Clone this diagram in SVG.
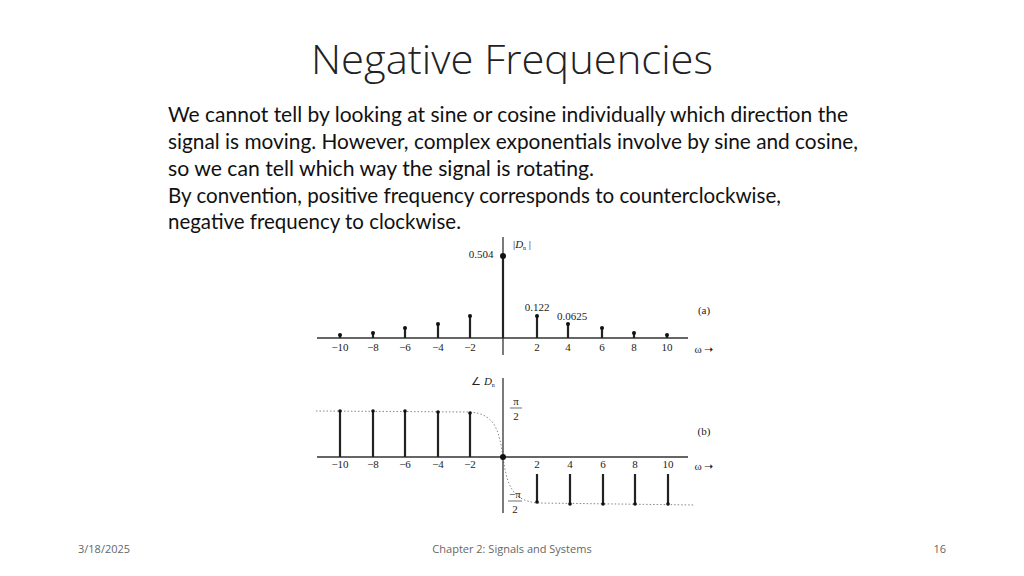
<svg xmlns="http://www.w3.org/2000/svg" width="1024" height="576" viewBox="0 0 1024 576">
<style>
.t{font-family:"Open Sans","Liberation Sans",sans-serif;fill:#222}
.body{font-family:Lato,"Liberation Sans",sans-serif;font-size:20.5px;fill:#111}
.lab{font-family:"Liberation Serif",serif;font-size:11px;fill:#222;text-anchor:middle}
.ax{stroke:#333;stroke-width:1.3;fill:none}
.st{stroke:#222;stroke-width:2.2}
.dot{fill:#111}
.dash{stroke:#888;stroke-width:1;stroke-dasharray:1.5 2;fill:none}
.ft{font-family:"Open Sans","Liberation Sans",sans-serif;font-size:11px;fill:#666}
</style>
<rect width="1024" height="576" fill="#fff"/>
<text class="t" x="512" y="74" font-size="40" font-weight="300" text-anchor="middle" textLength="402" lengthAdjust="spacingAndGlyphs">Negative Frequencies</text>
<g id="body">
<text class="body" x="168" y="122" textLength="680" lengthAdjust="spacingAndGlyphs">We cannot tell by looking at sine or cosine individually which direction the</text>
<text class="body" x="168" y="149" textLength="690" lengthAdjust="spacingAndGlyphs">signal is moving.  However, complex exponentials involve by sine and cosine,</text>
<text class="body" x="168" y="176" textLength="426" lengthAdjust="spacingAndGlyphs">so we can tell which way the signal is rotating.</text>
<text class="body" x="168" y="203" textLength="613" lengthAdjust="spacingAndGlyphs">By convention, positive frequency corresponds to counterclockwise,</text>
<text class="body" x="168" y="229" textLength="293" lengthAdjust="spacingAndGlyphs">negative frequency to clockwise.</text>
</g>
<g id="plotA">
<line class="ax" x1="317" y1="338" x2="688" y2="338"/>
<line class="ax" x1="503" y1="237" x2="503" y2="355"/>
<g class="st">
<line x1="503" y1="338" x2="503" y2="256"/>
<line x1="470" y1="338" x2="470" y2="316"/><line x1="537" y1="338" x2="537" y2="316"/>
<line x1="438" y1="338" x2="438" y2="324"/><line x1="568" y1="338" x2="568" y2="324"/>
<line x1="405" y1="338" x2="405" y2="328"/><line x1="602" y1="338" x2="602" y2="328"/>
<line x1="373" y1="338" x2="373" y2="333"/><line x1="634" y1="338" x2="634" y2="333"/>
<line x1="340" y1="338" x2="340" y2="335"/><line x1="667" y1="338" x2="667" y2="335"/>
</g>
<circle class="dot" cx="503" cy="256" r="3"/>
<circle class="dot" cx="470" cy="316" r="2"/><circle class="dot" cx="537" cy="316" r="2"/>
<circle class="dot" cx="438" cy="324" r="2"/><circle class="dot" cx="568" cy="324" r="2"/>
<circle class="dot" cx="405" cy="328" r="2"/><circle class="dot" cx="602" cy="328" r="2"/>
<circle class="dot" cx="373" cy="333" r="2"/><circle class="dot" cx="634" cy="333" r="2"/>
<circle class="dot" cx="340" cy="335" r="2"/><circle class="dot" cx="667" cy="335" r="2"/>
<text class="lab" x="340" y="351">−10</text><text class="lab" x="373" y="351">−8</text><text class="lab" x="405" y="351">−6</text><text class="lab" x="438" y="351">−4</text><text class="lab" x="470" y="351">−2</text>
<text class="lab" x="537" y="351">2</text><text class="lab" x="568" y="351">4</text><text class="lab" x="602" y="351">6</text><text class="lab" x="634" y="351">8</text><text class="lab" x="667" y="351">10</text>
<text class="lab" x="481" y="258">0.504</text>
<text class="lab" x="522" y="248">|<tspan font-style="italic">D</tspan><tspan font-size="6" dy="2">n</tspan><tspan dy="-2"> |</tspan></text>
<text class="lab" x="537" y="311">0.122</text>
<text class="lab" x="572" y="320">0.0625</text>
<text class="lab" x="704" y="314">(a)</text>
<text class="lab" x="704" y="353">ω ➝</text>
</g>
<g id="plotB">
<path class="dash" d="M316 411 L470 412 C495 414 499 430 503 457 C507 484 511 500 537 503 L695 505"/>
<line class="ax" x1="317" y1="457" x2="688" y2="457"/>
<line class="ax" x1="503" y1="378" x2="503" y2="513"/>
<g class="st">
<line x1="340" y1="457" x2="340" y2="411"/><line x1="373" y1="457" x2="373" y2="411"/><line x1="405" y1="457" x2="405" y2="411"/><line x1="438" y1="457" x2="438" y2="412"/><line x1="470" y1="457" x2="470" y2="413"/>
<line x1="537" y1="474" x2="537" y2="502"/><line x1="570" y1="474" x2="570" y2="504"/><line x1="603" y1="474" x2="603" y2="504"/><line x1="635" y1="474" x2="635" y2="504"/><line x1="668" y1="474" x2="668" y2="504"/>
</g>
<circle class="dot" cx="340" cy="411" r="1.8"/><circle class="dot" cx="373" cy="411" r="1.8"/><circle class="dot" cx="405" cy="411" r="1.8"/><circle class="dot" cx="438" cy="412" r="1.8"/><circle class="dot" cx="470" cy="413" r="1.8"/>
<circle class="dot" cx="537" cy="502" r="1.8"/><circle class="dot" cx="570" cy="504" r="1.8"/><circle class="dot" cx="603" cy="504" r="1.8"/><circle class="dot" cx="635" cy="504" r="1.8"/><circle class="dot" cx="668" cy="504" r="1.8"/>
<circle class="dot" cx="503" cy="457" r="3"/>
<text class="lab" x="340" y="468">−10</text><text class="lab" x="373" y="468">−8</text><text class="lab" x="405" y="468">−6</text><text class="lab" x="438" y="468">−4</text><text class="lab" x="470" y="468">−2</text>
<text class="lab" x="537" y="468">2</text><text class="lab" x="570" y="468">4</text><text class="lab" x="603" y="468">6</text><text class="lab" x="635" y="468">8</text><text class="lab" x="668" y="468">10</text>
<text class="lab" x="516" y="405">π</text><line x1="510" y1="408" x2="522" y2="408" stroke="#333" stroke-width="0.7"/><text class="lab" x="516" y="420">2</text>
<text class="lab" x="515" y="498">−π</text><line x1="508" y1="501" x2="522" y2="501" stroke="#333" stroke-width="0.7"/><text class="lab" x="515" y="513">2</text>
<text class="lab" x="483" y="385">∠ <tspan font-style="italic">D</tspan><tspan font-size="6" dy="2">n</tspan></text>
<text class="lab" x="704" y="435">(b)</text>
<text class="lab" x="704" y="470">ω ➝</text>
</g>
<text class="ft" x="78" y="553">3/18/2025</text>
<text class="ft" x="512" y="553" text-anchor="middle">Chapter 2: Signals and Systems</text>
<text class="ft" x="946" y="553" text-anchor="end">16</text>
</svg>
